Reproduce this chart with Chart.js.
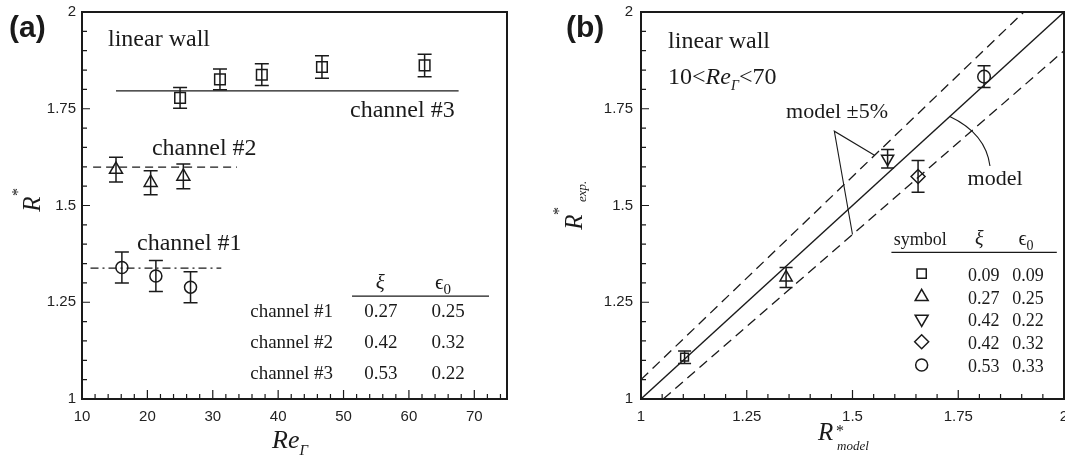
<!DOCTYPE html>
<html>
<head>
<meta charset="utf-8">
<script src="https://cdn.jsdelivr.net/npm/chart.js"></script>
<style>
  body { margin: 0; background: #fff; }
  #wrap { position: relative; width: 1065px; height: 467px; overflow: hidden; }
  canvas { position: absolute; top: 0; }
</style>
</head>
<body>
<div id="wrap">
  <canvas id="chartA" width="530" height="467" style="left:0"></canvas>
  <canvas id="chartB" width="535" height="467" style="left:530px"></canvas>
</div>
<script>
const SERIF = "'Liberation Serif', 'DejaVu Serif', serif";
const SANS = "'Liberation Sans', Arial, sans-serif";
const INK = '#1a1a1a';

// ---------- panel (a): R* against Re_Gamma ----------
const xTicksA = [10, 20, 30, 40, 50, 60, 70];
const yTicks = [1, 1.25, 1.5, 1.75, 2];

const ch1Re = [16.1, 21.3, 26.6];
const ch1R = [1.340, 1.318, 1.289];
const ch1Err = [0.040, 0.040, 0.040];

const ch2Re = [15.2, 20.5, 25.5];
const ch2R = [1.593, 1.559, 1.575];
const ch2Err = [0.032, 0.031, 0.032];

const ch3Re = [25.0, 31.1, 37.5, 46.7, 62.4];
const ch3R = [1.778, 1.826, 1.838, 1.858, 1.862];
const ch3Err = [0.027, 0.027, 0.028, 0.029, 0.029];

// mean level of each channel and the Re range it is drawn over
const ch1MeanRe = [11.3, 31.3], ch1Mean = 1.338;
const ch2MeanRe = [11.7, 33.7], ch2Mean = 1.599;
const ch3MeanRe = [15.2, 67.6], ch3Mean = 1.796;

const channelNames = ['channel #1', 'channel #2', 'channel #3'];
const channelXi = ['0.27', '0.42', '0.53'];
const channelEps = ['0.25', '0.32', '0.22'];

// ---------- panel (b): experiment against model ----------
const xTicksB = [1, 1.25, 1.5, 1.75, 2];
const rModel = [1.103, 1.343, 1.583, 1.655, 1.811];
const rExp = [1.108, 1.314, 1.621, 1.575, 1.833];
const rExpErr = [0.016, 0.026, 0.024, 0.041, 0.028];
const symbols = ['rect', 'triangle', 'triangle', 'rectRot', 'circle'];
const symbolRot = [0, 0, 180, 0, 0];
const symbolXi = ['0.09', '0.27', '0.42', '0.42', '0.53'];
const symbolEps = ['0.09', '0.25', '0.22', '0.32', '0.33'];

const modelX = [1, 2], modelY = [1, 2];
const upperX = [1, 1.905], upperY = [1.05, 2];
const lowerX = [1.0526, 2], lowerY = [1, 1.9];

function pts(xs, ys) {
  return xs.map((v, i) => ({ x: v, y: ys[i] }));
}

// ---------- drawing helpers ----------
function errorBars(chart, xs, ys, errs, cap) {
  const { ctx, scales: { x, y } } = chart;
  ctx.save();
  ctx.strokeStyle = INK;
  ctx.lineWidth = 1.5;
  ctx.beginPath();
  xs.forEach((xv, i) => {
    const px = x.getPixelForValue(xv);
    const top = y.getPixelForValue(ys[i] + errs[i]);
    const bot = y.getPixelForValue(ys[i] - errs[i]);
    ctx.moveTo(px, top); ctx.lineTo(px, bot);
    ctx.moveTo(px - cap, top); ctx.lineTo(px + cap, top);
    ctx.moveTo(px - cap, bot); ctx.lineTo(px + cap, bot);
  });
  ctx.stroke();
  ctx.restore();
}

function frame(chart, xMajor, xMinorStep, yMajor, yMinorStep) {
  const { ctx, chartArea: a, scales: { x, y } } = chart;
  ctx.save();
  ctx.strokeStyle = INK;
  ctx.lineWidth = 1.2;
  ctx.beginPath();
  const nx = Math.floor((x.max - x.min) / xMinorStep + 1e-6);
  for (let i = 0; i <= nx; i++) {
    const v = x.min + i * xMinorStep;
    const major = xMajor.some(m => Math.abs(m - v) < 1e-6);
    const px = x.getPixelForValue(v);
    ctx.moveTo(px, a.bottom); ctx.lineTo(px, a.bottom - (major ? 9 : 5));
  }
  const ny = Math.floor((y.max - y.min) / yMinorStep + 1e-6);
  for (let i = 0; i <= ny; i++) {
    const v = y.min + i * yMinorStep;
    const major = yMajor.some(m => Math.abs(m - v) < 1e-6);
    const py = y.getPixelForValue(v);
    ctx.moveTo(a.left, py); ctx.lineTo(a.left + (major ? 8 : 5), py);
  }
  ctx.stroke();
  ctx.lineWidth = 2;
  ctx.strokeRect(a.left, a.top, a.width, a.height);
  ctx.restore();
}

function label(chart, str, xv, yv, font, align) {
  const { ctx, scales: { x, y } } = chart;
  ctx.font = font;
  ctx.textAlign = align || 'left';
  ctx.textBaseline = 'alphabetic';
  ctx.fillText(str, x.getPixelForValue(xv), y.getPixelForValue(yv));
}

// runs of text with their own font and baseline shift, drawn one after another
function runs(ctx, x0, y0, parts, align) {
  ctx.textAlign = 'left';
  ctx.textBaseline = 'alphabetic';
  let w = 0;
  parts.forEach(p => { ctx.font = p.font; w += ctx.measureText(p.t).width + (p.gap || 0); });
  let x = align === 'center' ? x0 - w / 2 : x0;
  parts.forEach(p => {
    ctx.font = p.font;
    ctx.fillText(p.t, x, y0 + (p.dy || 0));
    x += ctx.measureText(p.t).width + (p.gap || 0);
  });
}

function epsZero(chart, xv, yv, size) {
  const { ctx, scales: { x, y } } = chart;
  runs(ctx, x.getPixelForValue(xv), y.getPixelForValue(yv), [
    { t: '\u03f5', font: size + 'px ' + SERIF },
    { t: '0', font: Math.round(size * 0.72) + 'px ' + SERIF, dy: size * 0.25 }
  ], 'center');
}

function axes(xTicks, yTickVals, xMin, xMax, yWidth, yPad) {
  const tickFont = { family: SANS, size: 15 };
  return {
    x: {
      type: 'linear', min: xMin, max: xMax,
      afterBuildTicks: s => { s.ticks = xTicks.map(v => ({ value: v })); },
      afterFit: s => { s.height = 68; s.paddingLeft = 0; s.paddingRight = 0; },
      grid: { display: false, drawTicks: false },
      border: { display: false },
      ticks: { font: tickFont, color: '#222', padding: 9, maxRotation: 0, autoSkip: false, callback: v => String(v) }
    },
    y: {
      type: 'linear', min: 1, max: 2,
      afterBuildTicks: s => { s.ticks = yTickVals.map(v => ({ value: v })); },
      afterFit: s => { s.width = yWidth; s.paddingTop = 0; s.paddingBottom = 0; },
      grid: { display: false, drawTicks: false },
      border: { display: false },
      ticks: { font: tickFont, color: '#222', padding: yPad, autoSkip: false, callback: v => String(v) }
    }
  };
}

const pointDefaults = {
  borderColor: INK,
  pointBackgroundColor: 'rgba(0,0,0,0)',
  pointBorderColor: INK,
  pointBorderWidth: 1.5,
  showLine: false
};

function lineSet(xs, ys, dash) {
  return {
    data: pts(xs, ys), showLine: true, pointRadius: 0,
    borderColor: INK, borderWidth: 1.3, borderDash: dash || []
  };
}

// ---------- panel (a) ----------
const panelA = {
  id: 'panelA',
  afterDatasetsDraw(chart) {
    const ctx = chart.ctx;
    errorBars(chart, ch1Re, ch1R, ch1Err, 7);
    errorBars(chart, ch2Re, ch2R, ch2Err, 7);
    errorBars(chart, ch3Re, ch3R, ch3Err, 7);
    frame(chart, xTicksA, 2, yTicks, 0.05);

    ctx.save();
    ctx.fillStyle = INK;
    const big = '24px ' + SERIF;
    label(chart, 'linear wall', 13.98, 1.912, big);
    label(chart, 'channel #3', 50.99, 1.728, big);
    label(chart, 'channel #2', 20.7, 1.630, big);
    label(chart, 'channel #1', 18.41, 1.385, big);

    // parameter table
    const small = '19px ' + SERIF;
    label(chart, '\u03be', 55.6, 1.284, 'italic 21px ' + SERIF, 'center');
    epsZero(chart, 65.2, 1.284, 21);
    const { x, y } = chart.scales;
    ctx.strokeStyle = INK; ctx.lineWidth = 1.3;
    ctx.beginPath();
    ctx.moveTo(x.getPixelForValue(51.3), y.getPixelForValue(1.266));
    ctx.lineTo(x.getPixelForValue(72.25), y.getPixelForValue(1.266));
    ctx.stroke();
    const rowY = [1.212, 1.132, 1.052];
    channelNames.forEach((n, i) => {
      label(chart, n, 48.4, rowY[i], small, 'right');
      label(chart, channelXi[i], 55.7, rowY[i], small, 'center');
      label(chart, channelEps[i], 66.0, rowY[i], small, 'center');
    });

    // axis titles and panel tag
    ctx.save();
    ctx.translate(40, 204);
    ctx.rotate(-Math.PI / 2);
    ctx.textAlign = 'center';
    ctx.font = 'italic 25px ' + SERIF;
    ctx.fillText('R', 0, 0);
    ctx.font = '16px ' + SERIF;
    ctx.fillText('*', 12, -17);
    ctx.restore();
    runs(ctx, 272, 448, [
      { t: 'Re', font: 'italic 26px ' + SERIF },
      { t: '\u0393', font: 'italic 15px ' + SERIF, dy: 7 }
    ]);
    ctx.font = 'bold 30px ' + SANS;
    ctx.textAlign = 'left';
    ctx.fillText('(a)', 9, 37);
    ctx.restore();
  }
};

new Chart(document.getElementById('chartA'), {
  type: 'scatter',
  data: {
    datasets: [
      Object.assign({ data: pts(ch1Re, ch1R), pointStyle: 'circle', pointRadius: 6 }, pointDefaults),
      Object.assign({ data: pts(ch2Re, ch2R), pointStyle: 'triangle', pointRadius: 7.5 }, pointDefaults),
      Object.assign({ data: pts(ch3Re, ch3R), pointStyle: 'rect', pointRadius: 7.5 }, pointDefaults),
      lineSet(ch1MeanRe, [ch1Mean, ch1Mean], [8, 4, 2, 4]),
      lineSet(ch2MeanRe, [ch2Mean, ch2Mean], [8, 5]),
      lineSet(ch3MeanRe, [ch3Mean, ch3Mean])
    ]
  },
  options: {
    responsive: false,
    devicePixelRatio: 1,
    animation: false,
    events: [],
    layout: { autoPadding: false, padding: { left: 0, top: 12, right: 23, bottom: 0 } },
    plugins: { legend: { display: false }, tooltip: { enabled: false } },
    scales: axes(xTicksA, yTicks, 10, 75, 82, 6)
  },
  plugins: [panelA]
});

// ---------- panel (b) ----------
const tableRadius = [6.5, 7.5, 7.5, 7, 6];
const panelB = {
  id: 'panelB',
  afterDatasetsDraw(chart) {
    const ctx = chart.ctx;
    const { x, y } = chart.scales;
    errorBars(chart, rModel, rExp, rExpErr, 6.5);
    frame(chart, xTicksB, 0.05, yTicks, 0.05);

    ctx.save();
    ctx.fillStyle = INK;
    ctx.strokeStyle = INK;
    const big = '24px ' + SERIF;
    label(chart, 'linear wall', 1.064, 1.906, big);
    runs(ctx, x.getPixelForValue(1.064), y.getPixelForValue(1.815), [
      { t: '10<', font: big },
      { t: 'Re', font: 'italic 24px ' + SERIF },
      { t: '\u0393', font: 'italic 14px ' + SERIF, dy: 6 },
      { t: '<70', font: big }
    ]);

    // annotations of the model lines
    label(chart, 'model \u00b15%', 1.343, 1.725, '22px ' + SERIF);
    label(chart, 'model', 1.772, 1.552, '22px ' + SERIF);
    ctx.lineWidth = 1.1;
    ctx.beginPath();
    ctx.moveTo(x.getPixelForValue(1.552), y.getPixelForValue(1.630));
    ctx.lineTo(x.getPixelForValue(1.457), y.getPixelForValue(1.692));
    ctx.lineTo(x.getPixelForValue(1.5), y.getPixelForValue(1.425));
    ctx.moveTo(x.getPixelForValue(1.73), y.getPixelForValue(1.73));
    ctx.quadraticCurveTo(x.getPixelForValue(1.815), y.getPixelForValue(1.686),
                         x.getPixelForValue(1.825), y.getPixelForValue(1.602));
    ctx.stroke();

    // symbol table
    const small = '18px ' + SERIF;
    label(chart, 'symbol', 1.66, 1.398, small, 'center');
    label(chart, '\u03be', 1.800, 1.398, 'italic 20px ' + SERIF, 'center');
    epsZero(chart, 1.910, 1.398, 20);
    ctx.lineWidth = 1.3;
    ctx.beginPath();
    ctx.moveTo(x.getPixelForValue(1.592), y.getPixelForValue(1.379));
    ctx.lineTo(x.getPixelForValue(1.983), y.getPixelForValue(1.379));
    ctx.stroke();
    const rowCenter = [1.324, 1.264, 1.207, 1.148, 1.088];
    symbols.forEach((s, i) => {
      ctx.fillStyle = 'rgba(0,0,0,0)';
      ctx.lineWidth = 1.5;
      Chart.helpers.drawPoint(ctx, { pointStyle: s, rotation: symbolRot[i], radius: tableRadius[i], borderWidth: 1.5 },
        x.getPixelForValue(1.6635), y.getPixelForValue(rowCenter[i]));
      ctx.fillStyle = INK;
      label(chart, symbolXi[i], 1.810, rowCenter[i] - 0.019, small, 'center');
      label(chart, symbolEps[i], 1.915, rowCenter[i] - 0.019, small, 'center');
    });

    // axis titles and panel tag
    ctx.save();
    ctx.translate(52, 222);
    ctx.rotate(-Math.PI / 2);
    ctx.textAlign = 'center';
    ctx.font = 'italic 25px ' + SERIF;
    ctx.fillText('R', 0, 0);
    ctx.font = '16px ' + SERIF;
    ctx.fillText('*', 11, -18);
    ctx.textAlign = 'left';
    ctx.font = 'italic 13px ' + SERIF;
    ctx.fillText('exp.', 20, 4);
    ctx.restore();
    ctx.textAlign = 'left';
    ctx.font = 'italic 25px ' + SERIF;
    ctx.fillText('R', 288, 440);
    ctx.font = '16px ' + SERIF;
    ctx.fillText('*', 306, 436);
    ctx.font = 'italic 13px ' + SERIF;
    ctx.fillText('model', 307, 450);
    ctx.font = 'bold 30px ' + SANS;
    ctx.fillText('(b)', 36, 37);
    ctx.restore();
  }
};

new Chart(document.getElementById('chartB'), {
  type: 'scatter',
  data: {
    datasets: [
      Object.assign({
        data: pts(rModel, rExp), pointStyle: symbols, pointRotation: symbolRot,
        pointRadius: [5.5, 7, 7, 7, 6.3]
      }, pointDefaults),
      lineSet(modelX, modelY),
      lineSet(upperX, upperY, [10, 6]),
      lineSet(lowerX, lowerY, [10, 6])
    ]
  },
  options: {
    responsive: false,
    devicePixelRatio: 1,
    animation: false,
    events: [],
    layout: { autoPadding: false, padding: { left: 0, top: 12, right: 1, bottom: 0 } },
    plugins: { legend: { display: false }, tooltip: { enabled: false } },
    scales: axes(xTicksB, yTicks, 1, 2, 111, 8)
  },
  plugins: [panelB]
});
</script>
</body>
</html>
